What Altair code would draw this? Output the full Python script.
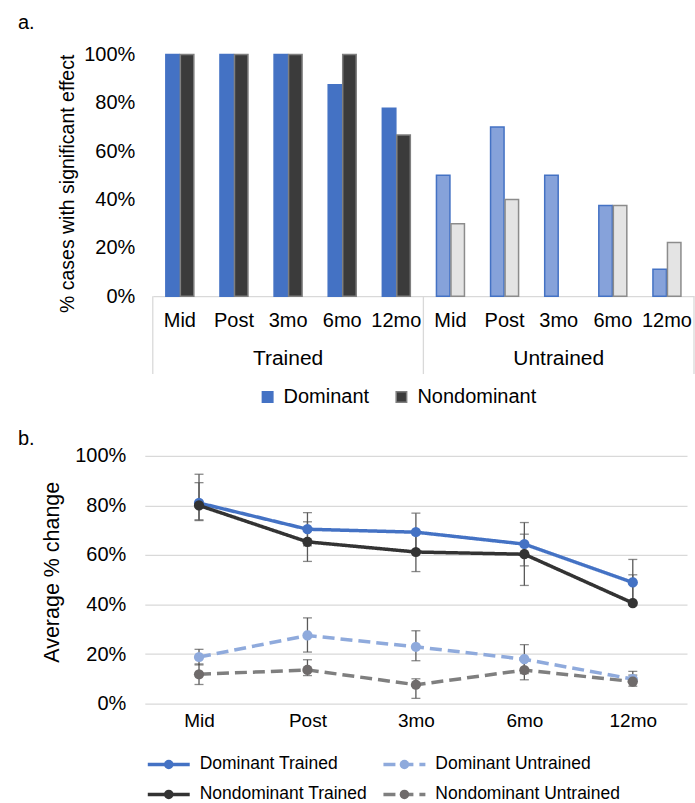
import altair as alt
import pandas as pd

FONT = "Liberation Sans, Arial, sans-serif"

panel_labels = ["a.", "b."]
times = ["Mid", "Post", "3mo", "6mo", "12mo"]
groups = ["Trained", "Untrained"]
hands = ["Dominant", "Nondominant"]

# Panel a: % cases with significant effect
sig_dom_trained = [100, 100, 100, 87.5, 77.8]
sig_nondom_trained = [100, 100, 100, 100, 66.7]
sig_dom_untrained = [50, 70, 50, 37.5, 11.1]
sig_nondom_untrained = [30, 40, 0, 37.5, 22.2]

# Panel b: average % change with error bars
series_b = ["Dominant Trained", "Dominant Untrained", "Nondominant Trained", "Nondominant Untrained"]
avg_dom_trained = [81.0, 70.4, 69.2, 64.4, 48.9]
lo_dom_trained = [74.2, 63.7, 61.9, 55.6, 39.6]
hi_dom_trained = [92.6, 77.1, 76.9, 73.1, 58.2]
avg_nondom_trained = [80.0, 65.3, 61.2, 60.3, 40.6]
lo_nondom_trained = [73.9, 57.4, 53.3, 47.7, 40.6]
hi_nondom_trained = [89.2, 73.4, 69.3, 68.4, 52.0]
avg_dom_untrained = [18.8, 27.5, 22.9, 17.9, 9.9]
lo_dom_untrained = [15.6, 20.8, 17.3, 12.1, 7.0]
hi_dom_untrained = [21.9, 34.6, 29.4, 23.8, 13.0]
avg_nondom_untrained = [11.8, 13.6, 7.6, 13.5, 8.9]
lo_nondom_untrained = [7.7, 11.3, 2.1, 9.6, 8.9]
hi_nondom_untrained = [16.0, 17.7, 10.0, 17.6, 11.5]

# ---------------- Panel a ----------------
rows = []
for g, vd, vn in [("Trained", sig_dom_trained, sig_nondom_trained),
                  ("Untrained", sig_dom_untrained, sig_nondom_untrained)]:
    for t, a, b in zip(times, vd, vn):
        rows.append(dict(key=f"{g}|{t}", hand="Dominant", cat=f"Dominant {g}", value=a))
        rows.append(dict(key=f"{g}|{t}", hand="Nondominant", cat=f"Nondominant {g}", value=b))
bars_df = pd.DataFrame(rows)
keys = [f"{g}|{t}" for g in groups for t in times]
cats = ["Dominant Trained", "Nondominant Trained", "Dominant Untrained", "Nondominant Untrained"]
fill_range = ["#4472C4", "#3B3B3B", "#86A2DA", "#E4E4E4"]
stroke_range = ["#4472C4", "#7F7F7F", "#4472C4", "#8C8C8C"]

W_A, H_A = 550, 242

xa_scale = alt.Scale(domain=keys, range=[8, W_A], paddingInner=0, paddingOuter=0)
xa = alt.X("key:N", sort=keys, scale=xa_scale,
           axis=alt.Axis(title=None, labelExpr="split(datum.label, '|')[1]", labelAngle=0,
                         labelFontSize=20, labelPadding=14, ticks=False,
                         domainColor="#D9D9D9", domainWidth=1.3, labelColor="#000"))
ya = alt.Y("value:Q", scale=alt.Scale(domain=[0, 100]),
           axis=alt.Axis(values=[0, 20, 40, 60, 80, 100], labelExpr="datum.value + '%'",
                         grid=False, domain=False, ticks=False, labelFontSize=20, labelPadding=10,
                         title="% cases with significant effect", titleFontSize=19.5,
                         titleFontWeight="normal", titlePadding=6, titleY=129,
                         labelColor="#000", titleColor="#000"))

leg = dict(title=None, orient="none", legendX=113, legendY=333, direction="horizontal",
           values=["Dominant Trained", "Nondominant Trained"],
           labelExpr="split(datum.label, ' ')[0]", labelFontSize=20, labelColor="#000",
           symbolType="square", symbolSize=110, symbolStrokeWidth=1.5,
           columnPadding=22, labelOffset=6)

bars = alt.Chart(bars_df).transform_filter("datum.value > 0").mark_bar(strokeWidth=1.5).encode(
    x=xa,
    xOffset=alt.XOffset("hand:N", sort=hands,
                        scale=alt.Scale(domain=hands, paddingInner=0.07, paddingOuter=0.9)),
    y=ya,
    fill=alt.Fill("cat:N", scale=alt.Scale(domain=cats, range=fill_range), legend=alt.Legend(**leg)),
    stroke=alt.Stroke("cat:N", scale=alt.Scale(domain=cats, range=stroke_range), legend=alt.Legend(**leg)),
)

grp_df = pd.DataFrame({"key": ["Trained|3mo", "Untrained|3mo"], "label": groups})
grp_text = alt.Chart(grp_df).mark_text(fontSize=21, baseline="middle", color="#000").encode(
    x=alt.X("key:N", sort=keys, bandPosition=0.5), y=alt.value(305), text="label:N")

sep_df = pd.DataFrame({"key": ["Trained|Mid", "Untrained|Mid"]})
sep1 = alt.Chart(sep_df).mark_rule(color="#D9D9D9", strokeWidth=1.3).encode(
    x=alt.X("key:N", sort=keys, bandPosition=0), y=alt.value(H_A), y2=alt.value(H_A + 78))
sep_end_df = pd.DataFrame({"key": ["Untrained|12mo"]})
sep2 = alt.Chart(sep_end_df).mark_rule(color="#D9D9D9", strokeWidth=1.3).encode(
    x=alt.X("key:N", sort=keys, bandPosition=1), y=alt.value(H_A), y2=alt.value(H_A + 78))

lab_a = alt.Chart(pd.DataFrame({"t": [panel_labels[0]]})).mark_text(
    align="left", baseline="top", fontSize=20, color="#000").encode(
    x=alt.value(-127), y=alt.value(-42), text="t:N")

top = alt.layer(bars, sep1, sep2, grp_text, lab_a).properties(width=W_A, height=H_A)

# ---------------- Panel b ----------------
rows = []
for s, av, lo, hi in [
    ("Dominant Trained", avg_dom_trained, lo_dom_trained, hi_dom_trained),
    ("Dominant Untrained", avg_dom_untrained, lo_dom_untrained, hi_dom_untrained),
    ("Nondominant Trained", avg_nondom_trained, lo_nondom_trained, hi_nondom_trained),
    ("Nondominant Untrained", avg_nondom_untrained, lo_nondom_untrained, hi_nondom_untrained),
]:
    for t, a, l, h in zip(times, av, lo, hi):
        rows.append(dict(time=t, series=s, value=a, lo=l, hi=h))
line_df = pd.DataFrame(rows)

line_colors = ["#4472C4", "#8FAADC", "#333333", "#7F7F7F"]
point_colors = ["#4472C4", "#8FAADC", "#333333", "#6F6B6B"]
dashes = [[1, 0], [12, 6], [1, 0], [12, 6]]

W_B, H_B = 543, 248

xb = alt.X("time:N", sort=times, scale=alt.Scale(type="point", domain=times, padding=0.5),
           axis=alt.Axis(title=None, labelAngle=0, labelFontSize=19, labelPadding=8, ticks=False,
                         domain=False, grid=False, labelColor="#000"))


def yb(field):
    return alt.Y(f"{field}:Q", scale=alt.Scale(domain=[0, 100]),
                 axis=alt.Axis(values=[0, 20, 40, 60, 80, 100], labelExpr="datum.value + '%'",
                               gridColor="#D9D9D9", gridWidth=1.3, domain=False, ticks=False,
                               labelFontSize=20, labelPadding=19, labelColor="#000",
                               title="Average % change", titleFontSize=21.5, titleY=116,
                               titleFontWeight="normal", titlePadding=11, titleColor="#000"))


lines = alt.Chart(line_df).mark_line(strokeWidth=3.5).encode(
    x=xb, y=yb("value"),
    color=alt.Color("series:N", scale=alt.Scale(domain=series_b, range=line_colors), legend=None),
    strokeDash=alt.StrokeDash("series:N", scale=alt.Scale(domain=series_b, range=dashes), legend=None),
)
err = alt.Chart(line_df).mark_rule(color="#595959", strokeWidth=1.3).encode(
    x=xb, y=yb("lo"), y2="hi:Q")
cap_lo = alt.Chart(line_df).mark_tick(color="#595959", thickness=1.3, size=9).encode(x=xb, y=yb("lo"))
cap_hi = alt.Chart(line_df).mark_tick(color="#595959", thickness=1.3, size=9).encode(x=xb, y=yb("hi"))
pts = alt.Chart(line_df).mark_circle(size=105, opacity=1).encode(
    x=xb, y=yb("value"),
    fill=alt.Fill("series:N", scale=alt.Scale(domain=series_b, range=point_colors), legend=None),
)
lab_b = alt.Chart(pd.DataFrame({"t": [panel_labels[1]]})).mark_text(
    align="left", baseline="top", fontSize=20, color="#000").encode(
    x=alt.value(-127), y=alt.value(-27), text="t:N")

bottom = alt.layer(lines, err, cap_lo, cap_hi, pts, lab_b).properties(width=W_B, height=H_B)

# ---------------- Panel b legend ----------------
leg_df = pd.DataFrame({"series": series_b, "col": [0, 1, 0, 1], "row": [0, 0, 1, 1]})
lx = alt.X("col:Q", scale=alt.Scale(domain=[0, 1], range=[24, 260]), axis=None)
ly = alt.Y("row:Q", scale=alt.Scale(domain=[0, 1], range=[12, 42]), axis=None)
leg_lines = alt.Chart(leg_df).mark_rule(strokeWidth=3.5, xOffset=-21, x2Offset=21).encode(
    x=lx, x2="col:Q", y=ly,
    color=alt.Color("series:N", scale=alt.Scale(domain=series_b, range=line_colors), legend=None),
    strokeDash=alt.StrokeDash("series:N", scale=alt.Scale(domain=series_b, range=dashes), legend=None),
)
leg_pts = alt.Chart(leg_df).mark_circle(size=90, opacity=1).encode(
    x=lx, y=ly,
    fill=alt.Fill("series:N", scale=alt.Scale(domain=series_b, range=point_colors), legend=None),
)
leg_txt = alt.Chart(leg_df).mark_text(align="left", baseline="middle", dx=31, fontSize=17.5,
                                      color="#000").encode(x=lx, y=ly, text="series:N")
legend_b = alt.layer(leg_lines, leg_pts, leg_txt).properties(width=W_B, height=44)

chart = alt.vconcat(top, bottom, legend_b, spacing=22).resolve_scale(
    color="independent", fill="independent", stroke="independent", strokeDash="independent",
    x="independent", y="independent", xOffset="independent",
).properties(
    padding={"left": 18, "top": 12, "right": 0, "bottom": 0},
    background="white",
).configure(font=FONT, view=alt.ViewConfig(stroke=None))

chart.save("out.html", embed_options={"renderer": "svg", "actions": False})
